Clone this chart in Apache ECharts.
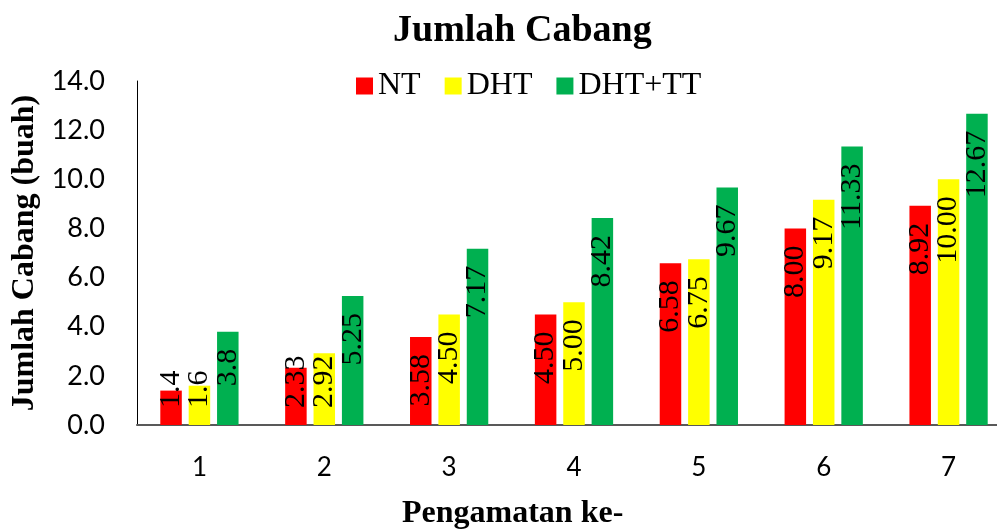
<!DOCTYPE html>
<html>
<head>
<meta charset="utf-8">
<script src="https://cdn.jsdelivr.net/npm/echarts@6/dist/echarts.min.js"></script>
<style>
html,body{margin:0;padding:0;background:#fff;}
#chart{width:997px;height:532px;}
</style>
</head>
<body>
<div id="chart"></div>
<script>
const titleText = 'Jumlah Cabang';
const xAxisTitle = 'Pengamatan ke-';
const yAxisTitle = 'Jumlah Cabang (buah)';
const categories = ['1', '2', '3', '4', '5', '6', '7'];
const seriesNames = ['NT', 'DHT', 'DHT+TT'];
const ntValues = [1.4, 2.33, 3.58, 4.50, 6.58, 8.00, 8.92];
const dhtValues = [1.6, 2.92, 4.50, 5.00, 6.75, 9.17, 10.00];
const dhtTtValues = [3.8, 5.25, 7.17, 8.42, 9.67, 11.33, 12.67];
const labelDecimals = [1, 2, 2, 2, 2, 2, 2];
const yMin = 0, yMax = 14, yInterval = 2;

const colors = ['#FF0000', '#FFFF00', '#00B050'];
const allValues = [ntValues, dhtValues, dhtTtValues];
const labelFont = 'Liberation Serif';
const labelSize = 30;
const labelGap = 17;

const chart = echarts.init(document.getElementById('chart'), null, {renderer: 'canvas'});

function labelFor() {
  return {
    show: true,
    rotate: 90,
    color: '#000',
    fontFamily: labelFont,
    fontSize: labelSize,
    fontWeight: 'normal',
    position: 'insideTop',
    distance: labelGap,
    align: 'right',
    verticalAlign: 'middle'
  };
}

function makeSeries(itemsFn) {
  return seriesNames.map((name, s) => ({
    name: name,
    type: 'bar',
    barWidth: 21.5,
    barGap: '32%',
    itemStyle: {color: colors[s]},
    data: itemsFn(s),
    label: Object.assign(labelFor(), {
      formatter: p => p.value.toFixed(labelDecimals[p.dataIndex])
    })
  }));
}

const option = {
  animation: false,
  backgroundColor: '#fff',
  textStyle: {fontFamily: labelFont},
  title: [{
    text: titleText,
    left: 388,
    top: 7,
    textStyle: {fontFamily: 'Liberation Serif', fontWeight: 'bold', fontSize: 38, color: '#000'}
  }, {
    text: xAxisTitle,
    left: 397,
    top: 493,
    textStyle: {fontFamily: 'Liberation Serif', fontWeight: 'bold', fontSize: 32, color: '#000'}
  }],
  legend: {
    data: seriesNames,
    left: 351,
    top: 65,
    icon: 'rect',
    itemWidth: 17,
    itemHeight: 17,
    itemGap: 24,
    textStyle: {fontFamily: 'Liberation Serif', fontSize: 32, color: '#000'}
  },
  grid: {left: 137, top: 81, width: 874, height: 344, containLabel: false, outerBoundsMode: 'none'},
  xAxis: {
    type: 'category',
    data: categories,
    axisLine: {show: true, lineStyle: {color: '#595959', width: 2}},
    axisTick: {show: false},
    axisLabel: {margin: 30, fontFamily: 'Lato', fontSize: 26, color: '#000'},
    splitLine: {show: false}
  },
  yAxis: {
    type: 'value',
    min: yMin,
    max: yMax,
    interval: yInterval,
    name: yAxisTitle,
    nameLocation: 'middle',
    nameRotate: 90,
    nameGap: 95,
    nameTextStyle: {fontFamily: 'Liberation Serif', fontWeight: 'bold', fontSize: 32, color: '#000'},
    axisLine: {show: true, lineStyle: {color: '#000', width: 1}},
    axisTick: {show: false},
    axisLabel: {margin: 32, fontFamily: 'Lato', fontSize: 27, color: '#000', formatter: v => v.toFixed(1)},
    splitLine: {show: false}
  },
  series: makeSeries(s => allValues[s])
};
chart.setOption(option);

const ctx = document.createElement('canvas').getContext('2d');
ctx.font = labelSize + 'px "' + labelFont + '"';
const basePx = chart.convertToPixel({yAxisIndex: 0}, 0);
chart.setOption({
  series: makeSeries(s => allValues[s].map((v, i) => {
    const txt = v.toFixed(labelDecimals[i]);
    const len = ctx.measureText(txt).width;
    const topPx = chart.convertToPixel({yAxisIndex: 0}, v);
    const lab = labelFor();
    if (topPx + labelGap + len > basePx - labelGap) {
      lab.position = 'insideBottom';
      lab.align = 'left';
    }
    return {value: v, label: lab};
  }))
});
</script>
</body>
</html>
